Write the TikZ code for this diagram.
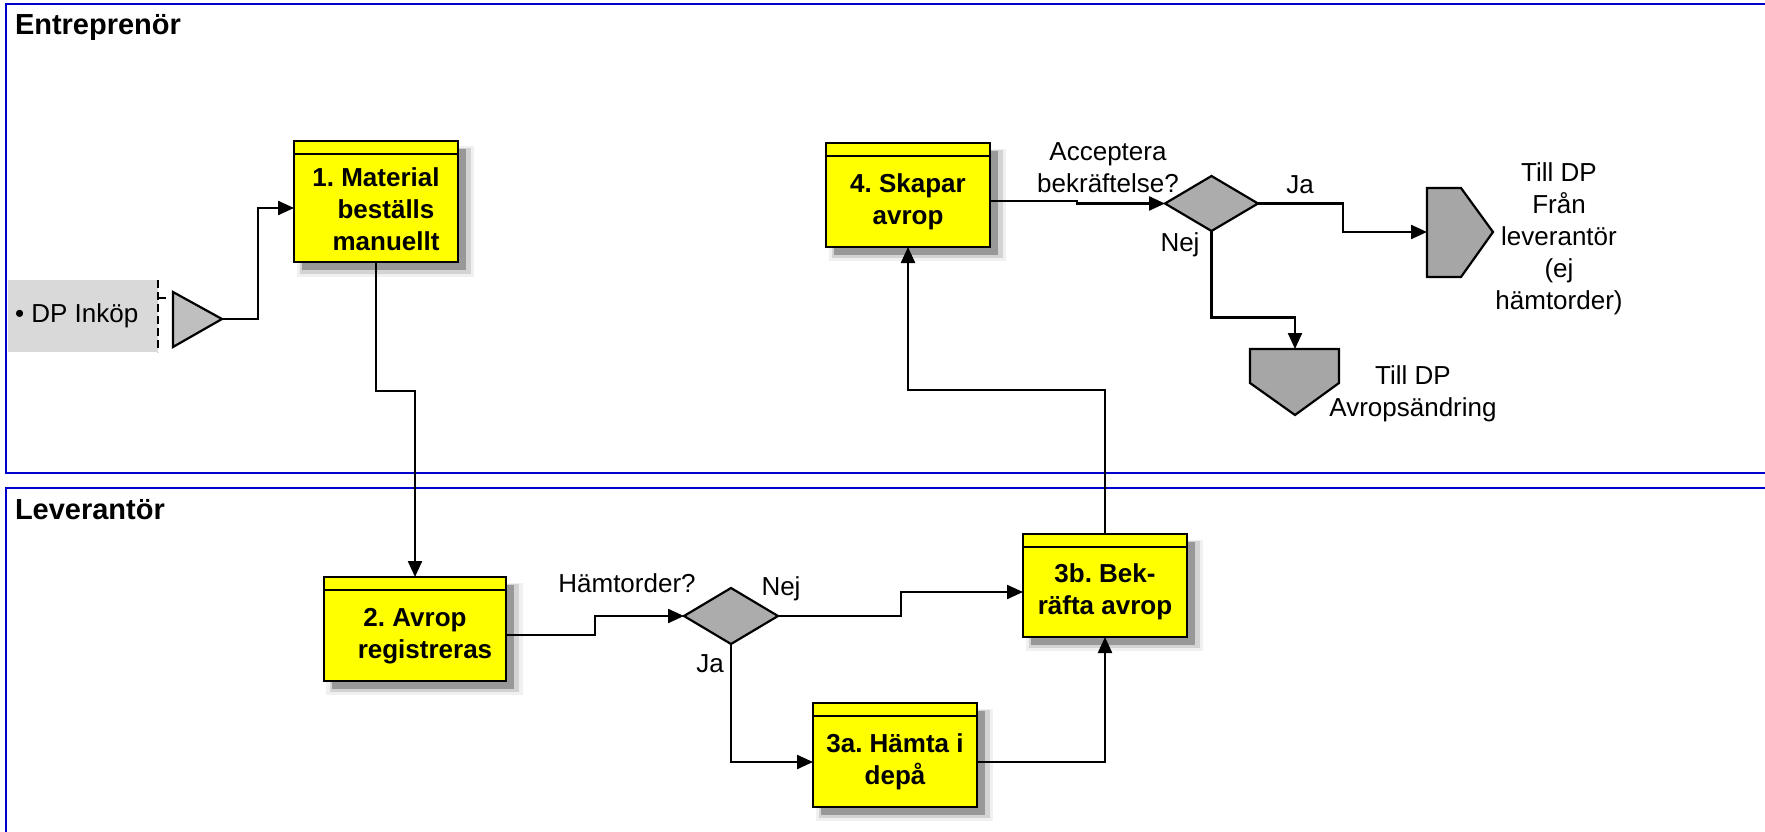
\documentclass[tikz,border=0pt]{standalone}
\usepackage{fontspec}
\setmainfont{Liberation Sans}
\frenchspacing
\usetikzlibrary{arrows.meta,shapes.geometric,shadows,calc}
\definecolor{lanecol}{RGB}{0,0,204}
\definecolor{dpgray}{RGB}{217,217,217}
\definecolor{dgray}{RGB}{172,172,172}
\definecolor{pgray}{RGB}{166,166,166}
\definecolor{tgray}{RGB}{191,191,191}
\definecolor{boxyellow}{RGB}{255,255,0}
\begin{document}
\begin{tikzpicture}[x=1pt,y=-1pt,
  every node/.style={inner sep=0pt, outer sep=0pt},
  lanebox/.style={draw=lanecol, line width=2.5pt},
  lanetitle/.style={font=\fontsize{29}{34}\selectfont\bfseries, anchor=base west},
  procbox/.style={draw, line width=2.5pt, fill=boxyellow, minimum width=164pt, minimum height=104pt,
     general shadow={shadow xshift=9pt, shadow yshift=-9pt, shadow scale=1.08, fill=black, opacity=0.06},
     general shadow={shadow xshift=9pt, shadow yshift=-9pt, shadow scale=1.04, fill=black, opacity=0.12},
     drop shadow={shadow xshift=8pt, shadow yshift=-8pt, fill=black, opacity=0.28}},
  hdr/.style={line width=2.5pt},
  btxt/.style={font=\fontsize{26}{32}\selectfont\bfseries, align=center},
  lbl/.style={font=\fontsize{26}{32}\selectfont, align=center},
  dec/.style={diamond, draw, line width=2.2pt, fill=dgray, minimum width=94pt, minimum height=56pt},
  offpage/.style={draw, line width=2.2pt, fill=pgray},
  conn/.style={line width=2.3pt, -{Triangle[length=16pt,width=14pt]}},
]
\useasboundingbox (0,0) rectangle (1765,832);
\clip (0,0) rectangle (1765,832);

% lanes
\draw[lanebox] (6,4) rectangle (1800,473);
\draw[lanebox] (6,488) rectangle (1800,900);
\node[lanetitle] (lt1) at (15,35) {Entreprenör};
\node[lanetitle] (lt2) at (15,519) {Leverantör};

% DP Inkop source
\fill[dpgray] (7.5,280) rectangle (158,352);
\node[font=\fontsize{26}{32}\selectfont, anchor=base west] (dp) at (15,322) {• DP Inköp};
\draw[line width=1.8pt, dash pattern=on 8pt off 4pt] (158,280) -- (158,352);
\draw[line width=1.8pt] (158,298) -- (166,298);
\filldraw[draw=black, line width=2.2pt, fill=tgray] (173,292) -- (222,319) -- (173,347) -- cycle;
\coordinate (tri) at (222,319);

% process boxes
\node[procbox, minimum height=121pt] (b1) at (376,201.5) {};
\node[procbox] (b4) at (908,195) {};
\node[procbox, minimum width=182pt] (b2) at (415,629) {};
\node[procbox] (b3a) at (895,755) {};
\node[procbox, minimum height=103pt] (b3b) at (1105,585.5) {};
\foreach \b in {b1,b4,b2,b3a,b3b}{
  \draw[hdr] ([yshift=-13pt]\b.north west) -- ([yshift=-13pt]\b.north east);
}
\node[btxt] (t1) at (376,209) {1. Material\\\hspace*{20pt}beställs\\\hspace*{20pt}manuellt};
\node[btxt] (t4) at (908,202) {4. Skapar\\avrop};
\node[btxt] (t2) at (415,636) {2. Avrop\\\hspace*{20pt}registreras};
\node[btxt] (t3a) at (895,762) {3a. Hämta i\\depå};
\node[btxt] (t3b) at (1105,592) {3b. Bek-\\räfta avrop};

% decisions
\node[dec] (d1) at (731,616) {};
\node[dec, minimum width=93pt, minimum height=55pt] (d2) at (1211.5,203.5) {};

% off-page references
\draw[offpage] (1427,188) -- (1461,188) -- (1493,232) -- (1461,277) -- (1427,277) -- cycle;
\coordinate (pr) at (1427,232);
\draw[offpage] (1250,349) -- (1339,349) -- (1339,383) -- (1295,415) -- (1250,383) -- cycle;
\coordinate (pd) at (1295,349);

% labels
\node[lbl] (lh) at (627,583) {Hämtorder?};
\node[lbl] (ln1) at (781,589) {Nej};
\node[lbl] (lj1) at (710,664) {Ja};
\node[lbl] (lacc) at (1108,168) {Acceptera\\bekräftelse?};
\node[lbl] (ln2) at (1180,245) {Nej};
\node[lbl] (lj2) at (1300,185) {Ja};
\node[lbl] (lpr) at (1559,239) {Till DP\\Från\\leverantör\\(ej\\hämtorder)};
\node[lbl] (lpd) at (1413,394) {Till DP\\Avropsändring};

% connectors
\draw[conn] (tri) -- ++(36,0) |- ([yshift=-6.5pt]b1.west);
\draw[conn] (b1.south) -- ++(0,129) -| (b2.north);
\draw[conn] ([yshift=-6pt]b2.east) -- ++(89,0) |- (d1.west);
\draw[conn] (d1.east) -- ++(123,0) |- ([yshift=-6.5pt]b3b.west);
\draw[conn] (d1.south) |- ([yshift=-7pt]b3a.west);
\draw[conn] ([yshift=-7pt]b3a.east) -| (b3b.south);
\draw[conn] (b3b.north) -- ++(0,-144) -| (b4.south);
\draw[conn] ([yshift=-6pt]b4.east) -- ++(87,0) |- (d2.west);
\draw[conn] (d2.east) -- ++(85,0) |- (pr);
\draw[conn] (d2.south) -- ++(0,86.5) -| (pd);
\end{tikzpicture}
\end{document}
